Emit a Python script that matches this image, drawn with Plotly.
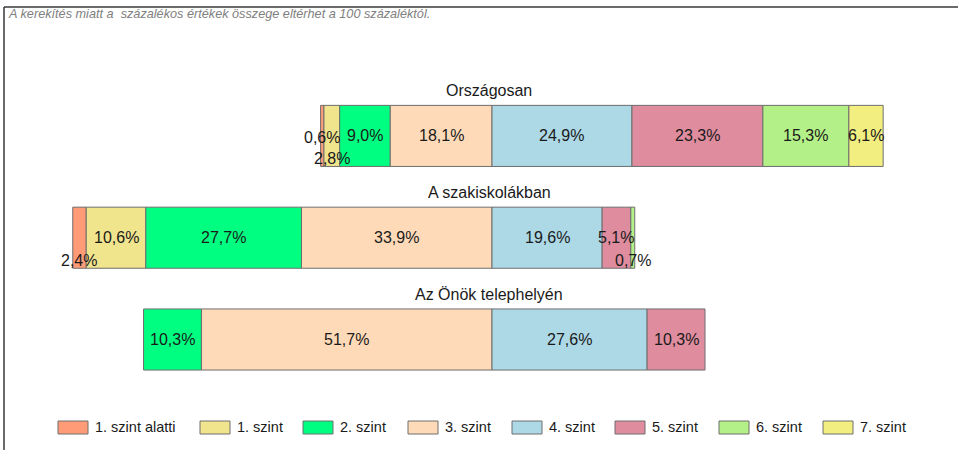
import plotly.graph_objects as go

# ---- data ----
categories = ["Országosan", "A szakiskolákban", "Az Önök telephelyén"]
levels = ["1. szint alatti", "1. szint", "2. szint", "3. szint",
          "4. szint", "5. szint", "6. szint", "7. szint"]
orszagosan = [0.6, 2.8, 9.0, 18.1, 24.9, 23.3, 15.3, 6.1]
szakiskola = [2.4, 10.6, 27.7, 33.9, 19.6, 5.1, 0.7, 0.0]
telephely = [0.0, 0.0, 10.3, 51.7, 27.6, 10.3, 0.0, 0.0]
series = [orszagosan, szakiskola, telephely]
subtitle = "A kerekítés miatt a  százalékos értékek összege eltérhet a 100 százaléktól."

# ---- style ----
colors = ["#FF9B77", "#F0E48C", "#00FF80", "#FFDAB8",
          "#ADD8E6", "#DE8C9E", "#B4F088", "#F3EE80"]
FONT = "Liberation Sans, Arial, sans-serif"
W, H = 958, 450
L, R, T, B = 40, 18, 85, 55
CENTER_PX = 492
K = 5.62  # px per percent

pw = W - L - R
ph = H - T - B
xrange = [-(CENTER_PX - L) / K, (W - R - CENTER_PX) / K]


def px(x):
    return (x - L) / pw


def py(y):
    return (H - B - y) / ph


fig = go.Figure()
for i, lev in enumerate(levels):
    xs, bases = [], []
    for vals in series:
        left = -sum(vals[:4])
        v = vals[i]
        xs.append(v if v > 0 else None)
        bases.append(left + sum(vals[:i]))
    fig.add_trace(go.Bar(
        orientation="h", y=categories, x=xs, base=bases, name=lev,
        marker=dict(color=colors[i], line=dict(color="#6e6e6e", width=1)),
        showlegend=False, hoverinfo="skip",
    ))

# segment labels
label_shift = {("Országosan", 1): -23, ("Országosan", 0): -2,
               ("A szakiskolákban", 0): -23, ("A szakiskolákban", 6): -23}
for cat, vals in zip(categories, series):
    left = -sum(vals[:4])
    for i, v in enumerate(vals):
        if v <= 0:
            continue
        xc = left + sum(vals[:i]) + v / 2
        fig.add_annotation(
            x=xc, y=cat, xref="x", yref="y", showarrow=False,
            text=f"{v:.1f}".replace(".", ",") + "%",
            yshift=label_shift.get((cat, i), 0),
            font=dict(family=FONT, size=16, color="#1a1a1a"),
        )
    # bar title
    fig.add_annotation(
        x=0, y=cat, xref="x", yref="y", showarrow=False, text=cat,
        yshift=45, xshift=-3,
        font=dict(family=FONT, size=16, color="#1a1a1a"),
    )

# subtitle
fig.add_annotation(
    x=px(6), y=py(14), xref="paper", yref="paper", xanchor="left",
    yanchor="middle", showarrow=False, text=f"<i>{subtitle}</i>",
    font=dict(family=FONT, size=12.7, color="#808080"),
)

# frame lines
fig.add_shape(type="line", xref="paper", yref="paper",
              x0=px(4), x1=px(W + 5), y0=py(7), y1=py(7),
              line=dict(color="#3a3a3a", width=1.5))
fig.add_shape(type="line", xref="paper", yref="paper",
              x0=px(4), x1=px(4), y0=py(7), y1=py(H + 5),
              line=dict(color="#3a3a3a", width=1.5))

# manual legend
legend_left = [58, 200, 303, 408, 512, 615, 719, 823]
for lev, col, lx in zip(levels, colors, legend_left):
    fig.add_shape(type="rect", xref="paper", yref="paper",
                  x0=px(lx), x1=px(lx + 30), y0=py(434), y1=py(421),
                  fillcolor=col, line=dict(color="#6e6e6e", width=1))
    fig.add_annotation(
        x=px(lx + 35), y=py(427.5), xref="paper", yref="paper",
        xanchor="left", yanchor="middle", showarrow=False, text=lev,
        font=dict(family=FONT, size=14.5, color="#1a1a1a"),
    )

fig.update_layout(
    width=W, height=H, barmode="overlay", bargap=0.4,
    margin=dict(l=L, r=R, t=T, b=B, pad=0),
    paper_bgcolor="white", plot_bgcolor="white",
    xaxis=dict(range=xrange, visible=False, fixedrange=True),
    yaxis=dict(autorange="reversed", visible=False, fixedrange=True),
    showlegend=False,
)

fig.write_html("out.html",
               config={"displayModeBar": False, "staticPlot": True},
               post_script="document.body.style.margin='0';document.body.style.overflow='hidden';")
